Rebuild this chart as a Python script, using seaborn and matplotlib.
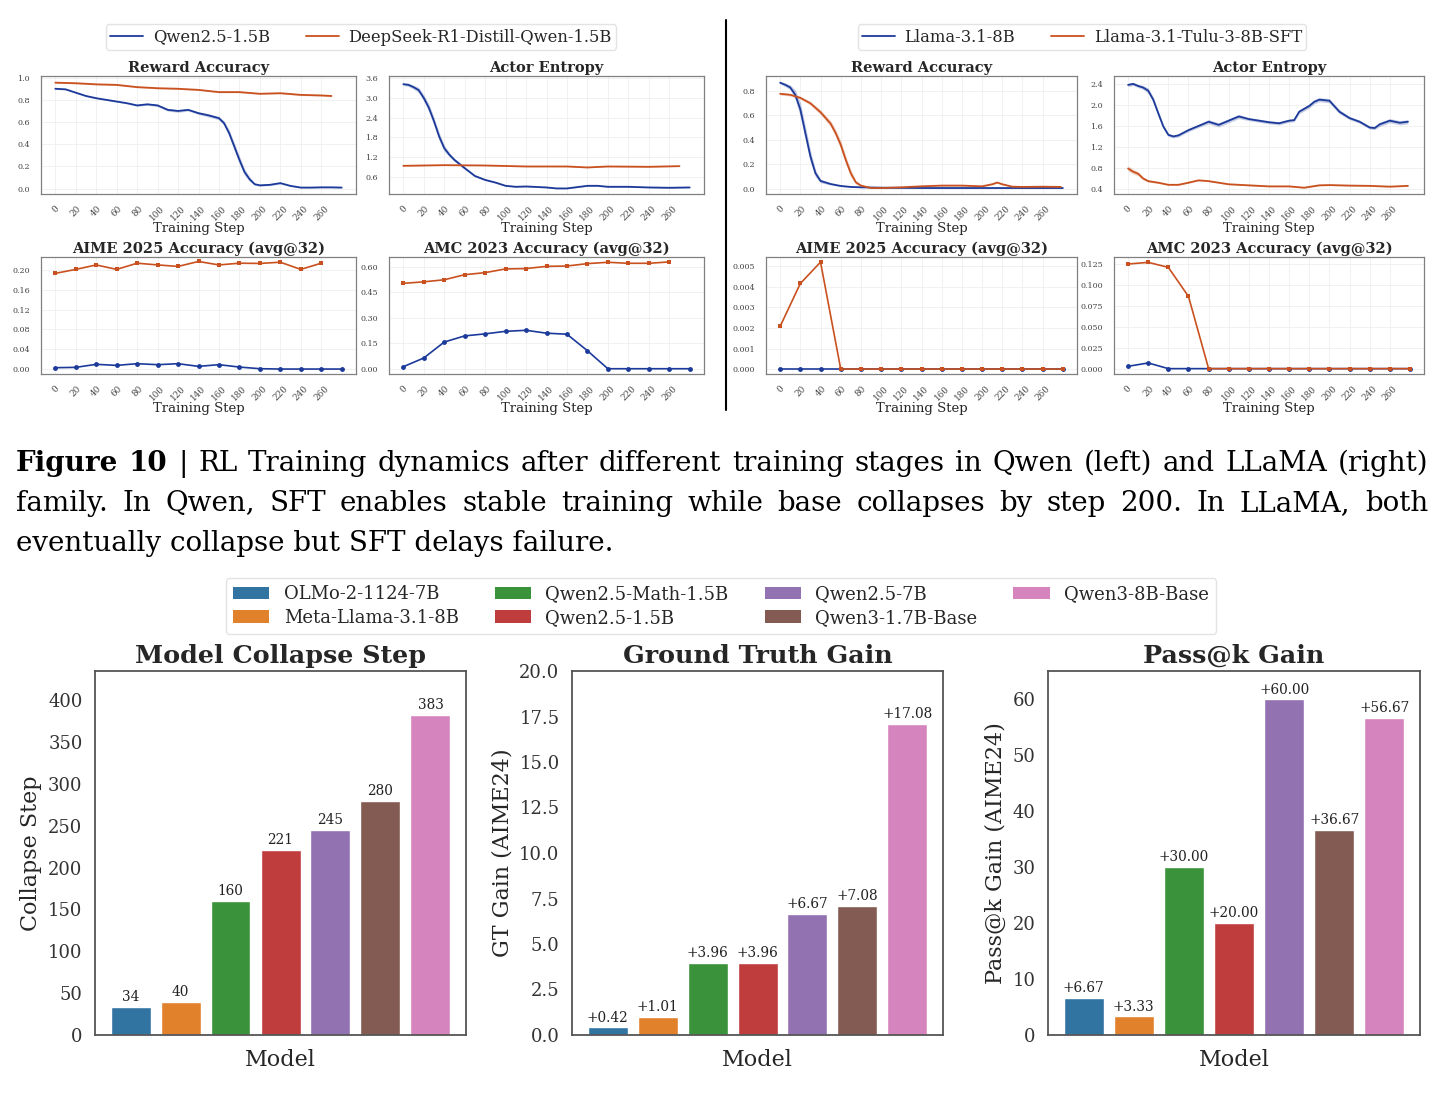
import numpy as np
import pandas as pd
import seaborn as sns
import matplotlib
matplotlib.use("Agg")
import matplotlib.pyplot as plt
from matplotlib.lines import Line2D
from matplotlib.patches import Patch
from matplotlib.ticker import FormatStrFormatter

W, H = 1446, 1094

# ---------------- top: RL training dynamics ----------------
qwen_names = ["Qwen2.5-1.5B", "DeepSeek-R1-Distill-Qwen-1.5B"]
llama_names = ["Llama-3.1-8B", "Llama-3.1-Tulu-3-8B-SFT"]

# Qwen reward accuracy
qwen_ra_base_steps = [0, 10, 20, 30, 40, 50, 60, 70, 80, 90, 100, 110, 120, 130, 140, 150, 160, 165, 170, 175,
                      180, 185, 190, 195, 200, 210, 220, 230, 240, 250, 260, 270, 280]
qwen_ra_base = [0.90, 0.895, 0.865, 0.835, 0.815, 0.80, 0.785, 0.77, 0.75, 0.76, 0.75, 0.71, 0.70, 0.71, 0.68, 0.66,
                0.635, 0.59, 0.50, 0.38, 0.26, 0.15, 0.085, 0.04, 0.03, 0.035, 0.05, 0.025, 0.01, 0.01, 0.012, 0.012, 0.01]
qwen_ra_base_sd = [0.006, 0.006, 0.006, 0.006, 0.006, 0.006, 0.006, 0.006, 0.008, 0.01, 0.01, 0.012, 0.012, 0.01,
                   0.012, 0.015, 0.015, 0.02, 0.03, 0.035, 0.035, 0.03, 0.02, 0.01, 0.008, 0.008, 0.008, 0.006,
                   0.005, 0.005, 0.005, 0.005, 0.005]
qwen_ra_sft_steps = [0, 20, 40, 60, 80, 100, 120, 140, 160, 180, 200, 220, 240, 260, 270]
qwen_ra_sft = [0.955, 0.95, 0.94, 0.935, 0.915, 0.905, 0.90, 0.89, 0.87, 0.87, 0.855, 0.86, 0.845, 0.84, 0.835]
qwen_ra_sft_sd = [0.006, 0.006, 0.006, 0.006, 0.006, 0.006, 0.006, 0.006, 0.006, 0.006, 0.006, 0.006, 0.006, 0.006, 0.006]

# Qwen actor entropy
qwen_ae_base_steps = [0, 5, 10, 15, 20, 25, 30, 35, 40, 45, 50, 60, 70, 80, 90, 100, 110, 120, 140, 150, 160, 170,
                      180, 190, 200, 220, 240, 260, 280]
qwen_ae_base = [3.42, 3.40, 3.33, 3.24, 3.00, 2.70, 2.29, 1.83, 1.47, 1.27, 1.11, 0.86, 0.62, 0.50, 0.42, 0.32, 0.29,
                0.30, 0.27, 0.24, 0.24, 0.28, 0.32, 0.32, 0.29, 0.29, 0.27, 0.26, 0.27]
qwen_ae_base_sd = [0.04, 0.05, 0.06, 0.08, 0.10, 0.12, 0.12, 0.12, 0.10, 0.06, 0.05, 0.04, 0.03, 0.02, 0.02, 0.02,
                   0.015, 0.015, 0.015, 0.015, 0.015, 0.015, 0.015, 0.015, 0.015, 0.015, 0.015, 0.015, 0.015]
qwen_ae_sft_steps = [0, 40, 80, 120, 160, 180, 200, 240, 270]
qwen_ae_sft = [0.93, 0.95, 0.94, 0.91, 0.91, 0.88, 0.91, 0.90, 0.92]
qwen_ae_sft_sd = [0.012, 0.012, 0.012, 0.012, 0.012, 0.012, 0.012, 0.012, 0.012]

# Llama reward accuracy
llama_ra_base_steps = [0, 5, 10, 15, 20, 25, 30, 35, 40, 50, 60, 70, 80, 100, 140, 180, 220, 280]
llama_ra_base = [0.869, 0.852, 0.83, 0.77, 0.65, 0.456, 0.264, 0.126, 0.063, 0.038, 0.022, 0.014, 0.011, 0.008,
                 0.005, 0.005, 0.005, 0.005]
llama_ra_base_sd = [0.01, 0.015, 0.02, 0.04, 0.06, 0.06, 0.05, 0.03, 0.015, 0.008, 0.005, 0.004, 0.003, 0.003,
                    0.003, 0.003, 0.003, 0.003]
llama_ra_sft_steps = [0, 10, 20, 30, 40, 50, 55, 60, 65, 70, 75, 80, 90, 100, 120, 140, 160, 180, 200, 210, 215,
                      220, 230, 240, 260, 278]
llama_ra_sft = [0.778, 0.77, 0.745, 0.70, 0.627, 0.533, 0.456, 0.36, 0.236, 0.126, 0.052, 0.025, 0.005, 0.005,
                0.011, 0.019, 0.025, 0.025, 0.019, 0.036, 0.05, 0.036, 0.016, 0.014, 0.016, 0.014]
llama_ra_sft_sd = [0.01, 0.01, 0.012, 0.015, 0.02, 0.025, 0.03, 0.035, 0.035, 0.03, 0.015, 0.008, 0.004, 0.004,
                   0.004, 0.005, 0.005, 0.005, 0.005, 0.006, 0.006, 0.006, 0.004, 0.004, 0.004, 0.004]

# Llama actor entropy
llama_ae_base_steps = [0, 5, 10, 15, 20, 25, 30, 35, 40, 45, 50, 55, 60, 70, 80, 90, 100, 110, 120, 130, 140, 150,
                       160, 165, 170, 180, 185, 190, 200, 210, 220, 230, 240, 245, 250, 260, 270, 278]
llama_ae_base = [2.38, 2.40, 2.36, 2.33, 2.27, 2.10, 1.84, 1.59, 1.43, 1.40, 1.42, 1.47, 1.52, 1.60, 1.68, 1.62,
                 1.70, 1.78, 1.73, 1.70, 1.67, 1.65, 1.70, 1.71, 1.87, 1.98, 2.06, 2.10, 2.08, 1.87, 1.75, 1.68,
                 1.57, 1.56, 1.63, 1.70, 1.66, 1.68]
llama_ae_base_sd = [0.03, 0.03, 0.03, 0.04, 0.05, 0.05, 0.05, 0.04, 0.03, 0.03, 0.03, 0.03, 0.03, 0.03, 0.04, 0.04,
                    0.04, 0.04, 0.03, 0.03, 0.03, 0.03, 0.03, 0.03, 0.04, 0.04, 0.04, 0.04, 0.04, 0.04, 0.03, 0.03,
                    0.03, 0.03, 0.04, 0.04, 0.04, 0.04]
llama_ae_sft_steps = [0, 5, 10, 15, 20, 30, 40, 50, 60, 70, 80, 90, 100, 120, 140, 160, 175, 190, 200, 220, 240,
                      260, 278]
llama_ae_sft = [0.79, 0.73, 0.69, 0.60, 0.55, 0.52, 0.48, 0.48, 0.52, 0.565, 0.55, 0.52, 0.49, 0.47, 0.45, 0.45,
                0.425, 0.47, 0.475, 0.465, 0.46, 0.445, 0.46]
llama_ae_sft_sd = [0.05, 0.045, 0.04, 0.03, 0.02, 0.015, 0.01, 0.01, 0.01, 0.01, 0.01, 0.01, 0.01, 0.01, 0.01,
                   0.01, 0.01, 0.01, 0.01, 0.01, 0.01, 0.01, 0.01]

# evaluation (avg@32)
eval_steps = [0, 20, 40, 60, 80, 100, 120, 140, 160, 180, 200, 220, 240, 260, 280]
qwen_aime_base = [0.0027, 0.0034, 0.0095, 0.0074, 0.0108, 0.0088, 0.0108, 0.0054, 0.0088, 0.004, 0.0007, 0.0, 0.0, 0.0, 0.0]
qwen_aime_sft = [0.193, 0.201, 0.210, 0.201, 0.2135, 0.210, 0.207, 0.217, 0.210, 0.2135, 0.213, 0.2155, 0.201, 0.2135]
qwen_amc_base = [0.012, 0.063, 0.157, 0.193, 0.205, 0.220, 0.226, 0.209, 0.203, 0.106, 0.0, 0.0, 0.0, 0.0, 0.0]
qwen_amc_sft = [0.502, 0.511, 0.523, 0.553, 0.565, 0.587, 0.589, 0.602, 0.604, 0.618, 0.626, 0.620, 0.620, 0.628]
llama_aime_base = [0.0, 0.0, 0.0, 0.0, 0.0, 0.0, 0.0, 0.0, 0.0, 0.0, 0.0, 0.0, 0.0, 0.0, 0.0]
llama_aime_sft = [0.00208, 0.00417, 0.00521, 0.0, 0.0, 0.0, 0.0, 0.0, 0.0, 0.0, 0.0, 0.0, 0.0, 0.0, 0.0]
llama_amc_base = [0.0028, 0.0068, 0.0, 0.0, 0.0, 0.0, 0.0, 0.0, 0.0, 0.0, 0.0, 0.0, 0.0, 0.0, 0.0]
llama_amc_sft = [0.125, 0.127, 0.121, 0.0863, 0.0, 0.0, 0.0, 0.0, 0.0, 0.0, 0.0, 0.0, 0.0, 0.0, 0.0]

# ---------------- caption ----------------
caption_lines = [
    "Figure 10 | RL Training dynamics after different training stages in Qwen (left) and LLaMA (right)",
    "family.  In Qwen, SFT enables stable training while base collapses by step 200.  In LLaMA, both",
    "eventually collapse but SFT delays failure.",
]

# ---------------- bottom: bar charts ----------------
models = ["OLMo-2-1124-7B", "Meta-Llama-3.1-8B", "Qwen2.5-Math-1.5B", "Qwen2.5-1.5B",
          "Qwen2.5-7B", "Qwen3-1.7B-Base", "Qwen3-8B-Base"]
collapse_step = [34, 40, 160, 221, 245, 280, 383]
gt_gain = [0.42, 1.01, 3.96, 3.96, 6.67, 7.08, 17.08]
passk_gain = [6.67, 3.33, 30.00, 20.00, 60.00, 36.67, 56.67]

BLUE = "#1c3a9a"
ORANGE = "#c9511f"

sns.set_theme(style="white")
plt.rcParams["font.family"] = ["DejaVu Serif"]

fig = plt.figure(figsize=(W / 100, H / 100), dpi=100)


def ax_px(x0, y0, x1, y1):
    return fig.add_axes([x0 / W, 1 - y1 / H, (x1 - x0) / W, (y1 - y0) / H])


def style_top(ax, title, yticks, fmt, ylim):
    ax.set_title(title, fontsize=10.5, fontweight="bold", pad=3, color=".15")
    ax.set_xlim(-14, 294)
    ax.set_xticks(range(0, 261, 20))
    ax.tick_params(axis="x", labelsize=6.3, labelrotation=45, pad=1, colors="#444444")
    ax.tick_params(axis="y", labelsize=5.8, pad=2, colors="#444444")
    ax.set_yticks(yticks)
    ax.yaxis.set_major_formatter(FormatStrFormatter(fmt))
    ax.set_ylim(*ylim)
    ax.set_xlabel("Training Step", fontsize=9.5, labelpad=0, color=".15")
    ax.set_ylabel("")
    ax.grid(True, color="#efefef", lw=0.6)
    for sp in ax.spines.values():
        sp.set_color("#808080")
        sp.set_linewidth(0.9)


def curve(ax, steps, vals, sd, color):
    s = np.array(steps)
    v = np.array(vals)
    e = np.array(sd)
    ax.fill_between(s, v - e, v + e, color=color, alpha=0.25, lw=0)
    sns.lineplot(x=s, y=v, color=color, lw=1.3, ax=ax)


def evals(ax, base, sft):
    sns.lineplot(x=eval_steps[:len(base)], y=base, color=BLUE, lw=1.2, marker="o", markersize=3.5,
                 markeredgewidth=0, ax=ax)
    sns.lineplot(x=eval_steps[:len(sft)], y=sft, color=ORANGE, lw=1.2, marker="s", markersize=3.5,
                 markeredgewidth=0, ax=ax)


# left block (Qwen)
ax = ax_px(41, 76, 356, 194)
curve(ax, qwen_ra_base_steps, qwen_ra_base, qwen_ra_base_sd, BLUE)
curve(ax, qwen_ra_sft_steps, qwen_ra_sft, qwen_ra_sft_sd, ORANGE)
style_top(ax, "Reward Accuracy", [0, 0.2, 0.4, 0.6, 0.8, 1.0], "%.1f", (-0.048, 1.015))

ax = ax_px(389, 76, 704, 194)
curve(ax, qwen_ae_base_steps, qwen_ae_base, qwen_ae_base_sd, BLUE)
curve(ax, qwen_ae_sft_steps, qwen_ae_sft, qwen_ae_sft_sd, ORANGE)
style_top(ax, "Actor Entropy", [0.6, 1.2, 1.8, 2.4, 3.0, 3.6], "%.1f", (0.07, 3.67))

ax = ax_px(41, 257, 356, 374)
evals(ax, qwen_aime_base, qwen_aime_sft)
style_top(ax, "AIME 2025 Accuracy (avg@32)", [0, 0.04, 0.08, 0.12, 0.16, 0.20], "%.2f", (-0.010, 0.226))

ax = ax_px(389, 257, 704, 374)
evals(ax, qwen_amc_base, qwen_amc_sft)
style_top(ax, "AMC 2023 Accuracy (avg@32)", [0, 0.15, 0.30, 0.45, 0.60], "%.2f", (-0.031, 0.657))

# right block (Llama)
ax = ax_px(766, 76, 1077, 194)
curve(ax, llama_ra_base_steps, llama_ra_base, llama_ra_base_sd, BLUE)
curve(ax, llama_ra_sft_steps, llama_ra_sft, llama_ra_sft_sd, ORANGE)
style_top(ax, "Reward Accuracy", [0, 0.2, 0.4, 0.6, 0.8], "%.1f", (-0.044, 0.924))

ax = ax_px(1114, 76, 1424, 194)
curve(ax, llama_ae_base_steps, llama_ae_base, llama_ae_base_sd, BLUE)
curve(ax, llama_ae_sft_steps, llama_ae_sft, llama_ae_sft_sd, ORANGE)
style_top(ax, "Actor Entropy", [0.4, 0.8, 1.2, 1.6, 2.0, 2.4], "%.1f", (0.305, 2.55))

ax = ax_px(766, 257, 1077, 374)
evals(ax, llama_aime_base, llama_aime_sft)
style_top(ax, "AIME 2025 Accuracy (avg@32)", [0, 0.001, 0.002, 0.003, 0.004, 0.005], "%.3f", (-0.00024, 0.00546))

ax = ax_px(1114, 257, 1424, 374)
evals(ax, llama_amc_base, llama_amc_sft)
style_top(ax, "AMC 2023 Accuracy (avg@32)", [0, 0.025, 0.05, 0.075, 0.1, 0.125], "%.3f", (-0.0064, 0.1334))

# top legends
for names, cx in [(qwen_names, 361), (llama_names, 1082)]:
    handles = [Line2D([], [], color=BLUE, lw=1.3), Line2D([], [], color=ORANGE, lw=1.3)]
    fig.legend(handles, names, loc="center", bbox_to_anchor=(cx / W, 1 - 37 / H), ncol=2, fontsize=11.8,
               frameon=True, handlelength=2.0, handletextpad=0.6, columnspacing=2.2, borderpad=0.25,
               edgecolor="#dddddd", fancybox=True)

# divider
fig.add_artist(Line2D([726 / W, 726 / W], [1 - 20 / H, 1 - 410 / H], color="black", lw=1.5))

# caption, justified lines
renderer = fig.canvas.get_renderer()
cap_x0, cap_x1 = 16, 1428
cap_base = [471, 511, 551]
for i, line in enumerate(caption_lines):
    words = line.split()
    y = 1 - cap_base[i] / H
    if i == len(caption_lines) - 1:
        fig.text(cap_x0 / W, y, line, fontsize=20, va="baseline", ha="left", color="black")
        continue
    txts = []
    for j, wd in enumerate(words):
        bold = (i == 0 and j < 2)
        txts.append(fig.text(0, y, wd, fontsize=20, va="baseline", ha="left", color="black",
                             fontweight="bold" if bold else "normal"))
    widths = [t.get_window_extent(renderer).width for t in txts]
    gap = (cap_x1 - cap_x0 - sum(widths)) / (len(words) - 1)
    x = cap_x0
    for t, wdt in zip(txts, widths):
        t.set_x(x / W)
        x += wdt + gap

# bar charts
bar_df = pd.DataFrame({"Model": models, "Collapse Step": collapse_step,
                       "GT Gain (AIME24)": gt_gain, "Pass@k Gain (AIME24)": passk_gain})
panels = [
    ((95, 671, 466, 1035), "Collapse Step", "Model Collapse Step", 435, [str(v) for v in collapse_step]),
    ((572, 671, 943, 1035), "GT Gain (AIME24)", "Ground Truth Gain", 20.0, [f"+{v:.2f}" for v in gt_gain]),
    ((1048, 671, 1420, 1035), "Pass@k Gain (AIME24)", "Pass@k Gain", 65.07, [f"+{v:.2f}" for v in passk_gain]),
]
bar_colors = None
for rect, col, title, ytop, labels in panels:
    ax = ax_px(*rect)
    sns.barplot(data=bar_df, x="Model", y=col, hue="Model", palette="tab10", legend=False, ax=ax)
    for cont, lab in zip(ax.containers, labels):
        ax.bar_label(cont, labels=[lab], fontsize=9.8, padding=2, color="#222222")
    ax.set_ylim(0, ytop)
    ax.set_xlim(-0.71, 6.71)
    ax.set_xticks([])
    ax.set_title(title, fontsize=18.3, fontweight="bold", pad=6, color=".15")
    ax.set_xlabel("Model", fontsize=16, labelpad=10, color=".15")
    ax.set_ylabel(col, fontsize=16, color=".15")
    ax.tick_params(axis="y", labelsize=13, colors=".2", pad=3)
    for sp in ax.spines.values():
        sp.set_color("#555555")
        sp.set_linewidth(1.3)
    if bar_colors is None:
        bar_colors = [c.patches[0].get_facecolor() for c in ax.containers]

handles = [Patch(facecolor=c, edgecolor="none") for c in bar_colors]
fig.legend(handles, models, loc="center", bbox_to_anchor=(721 / W, 1 - 606 / H), ncol=4, fontsize=13,
           frameon=True, handlelength=2.0, handleheight=0.7, handletextpad=0.8, columnspacing=2.0,
           edgecolor="#dddddd", fancybox=True, borderpad=0.4, labelspacing=0.3)

fig.savefig("out.png", dpi=100)
